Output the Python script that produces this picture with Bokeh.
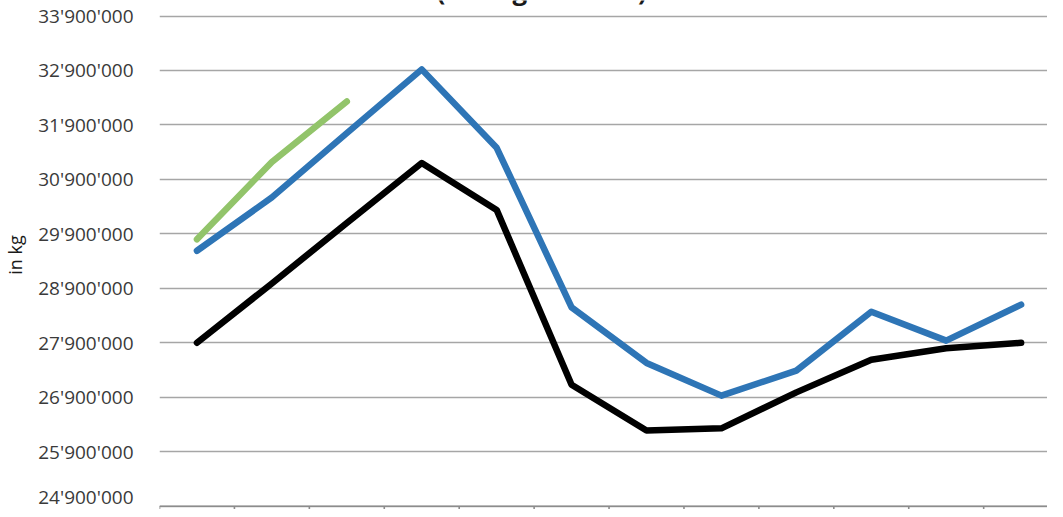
from bokeh.plotting import figure
from bokeh.models import Range1d, FixedTicker, Span, Label
from bokeh.embed import file_html
from bokeh.resources import INLINE

# ---- data (kg) ----
months = ["Jan", "Feb", "Mär", "Apr", "Mai", "Jun", "Jul", "Aug", "Sep", "Okt", "Nov", "Dez"]
series_black = [27_900_000, 28_990_000, 30_100_000, 31_200_000, 30_340_000, 27_130_000,
                26_290_000, 26_330_000, 26_990_000, 27_590_000, 27_800_000, 27_900_000]
series_blue = [29_590_000, 30_570_000, 31_750_000, 32_920_000, 31_480_000, 28_550_000,
               27_530_000, 26_930_000, 27_390_000, 28_470_000, 27_940_000, 28_600_000]
series_green = [29_800_000, 31_220_000, 32_330_000]

y_ticks = [24_900_000, 25_900_000, 26_900_000, 27_900_000, 28_900_000,
           29_900_000, 30_900_000, 31_900_000, 32_900_000, 33_900_000]
y_tick_labels = ["24'900'000", "25'900'000", "26'900'000", "27'900'000", "28'900'000",
                 "29'900'000", "30'900'000", "31'900'000", "32'900'000", "33'900'000"]
y_axis_title = "in kg"
title_line2 = "(30 Tage/Monat)"

x_idx = list(range(len(months)))

Y_END = 34_184_600
p = figure(width=1047, height=509, output_backend="svg", toolbar_location=None,
           x_range=Range1d(-0.5, 11.352), y_range=Range1d(24_839_400, Y_END),
           x_axis_location=None,
           min_border_left=151, min_border_right=0, min_border_top=0, min_border_bottom=0)
p.outline_line_color = None
p.background_fill_color = "white"
p.border_fill_color = "white"
p.xgrid.visible = False

# y axis
ax = p.yaxis[0]
ax.ticker = FixedTicker(ticks=y_ticks)
ax.major_label_overrides = {t: l for t, l in zip(y_ticks, y_tick_labels)}
ax.axis_line_color = None
ax.major_tick_line_color = None
ax.minor_tick_line_color = None
ax.major_tick_out = 0
ax.major_tick_in = 0
ax.major_label_standoff = 26
ax.major_label_text_font = "Open Sans"
ax.major_label_text_font_size = "19px"
ax.major_label_text_color = "#3a3a3a"
ax.axis_label = y_axis_title
ax.axis_label_text_font = "Open Sans"
ax.axis_label_text_font_size = "18px"
ax.axis_label_text_font_style = "normal"
ax.axis_label_text_color = "#1a1a1a"
ax.axis_label_standoff = 8

p.ygrid.ticker = FixedTicker(ticks=y_ticks)
p.ygrid.grid_line_color = "#a6a6a6"
p.ygrid.grid_line_width = 1.3

# bottom category axis line and separators
p.add_layout(Span(location=y_ticks[0], dimension="width", line_color="#8c8c8c", line_width=1.6))
bounds = [i - 0.5 for i in range(len(months) + 1)]
p.segment(x0=bounds, x1=bounds, y0=[y_ticks[0]] * len(bounds),
          y1=[p.y_range.start] * len(bounds), line_color="#8c8c8c", line_width=1.6)

# series
p.line(x_idx, series_blue, line_color="#2E75B6", line_width=6.5, line_cap="round", line_join="round")
p.line(x_idx, series_black, line_color="#000000", line_width=6.5, line_cap="round", line_join="round")
p.line(x_idx[:len(series_green)], series_green, line_color="#92C46A", line_width=6.5,
       line_cap="round", line_join="round")

# title (only its lower edge lies inside the window, as in the reference)
p.add_layout(Label(x=4.60, y=Y_END - 135_000, text=title_line2, text_align="center",
                   text_baseline="bottom", text_font="Open Sans", text_font_size="26px",
                   text_font_style="bold", text_color="#1a1a1a"))

open("out.html", "w").write(file_html(p, INLINE))
